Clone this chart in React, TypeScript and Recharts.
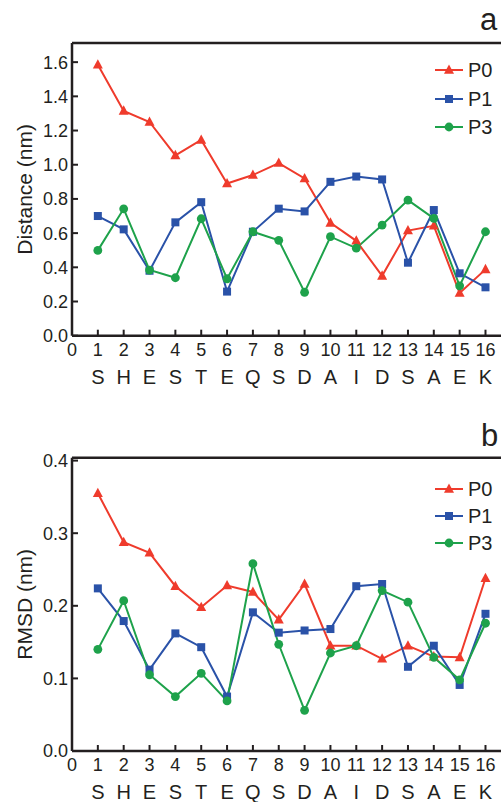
import React from 'react';
import { LineChart, Line, XAxis, YAxis, ReferenceLine, Legend } from 'recharts';

const POSITIONS = [1, 2, 3, 4, 5, 6, 7, 8, 9, 10, 11, 12, 13, 14, 15, 16];
const RESIDUES = ['S', 'H', 'E', 'S', 'T', 'E', 'Q', 'S', 'D', 'A', 'I', 'D', 'S', 'A', 'E', 'K'];
const X_TICKS = [0, 1, 2, 3, 4, 5, 6, 7, 8, 9, 10, 11, 12, 13, 14, 15, 16];

// panel a: distance (nm)
const DIST_P0 = [1.585, 1.315, 1.25, 1.055, 1.145, 0.89, 0.94, 1.01, 0.92, 0.66, 0.555, 0.35, 0.615, 0.643, 0.25, 0.388];
const DIST_P1 = [0.7, 0.622, 0.38, 0.663, 0.781, 0.258, 0.608, 0.743, 0.727, 0.9, 0.931, 0.914, 0.427, 0.735, 0.365, 0.283];
const DIST_P3 = [0.499, 0.742, 0.384, 0.339, 0.684, 0.333, 0.608, 0.558, 0.254, 0.579, 0.512, 0.647, 0.793, 0.686, 0.292, 0.608];
const DIST_TICKS = [0, 0.2, 0.4, 0.6, 0.8, 1.0, 1.2, 1.4, 1.6];

// panel b: RMSD (nm)
const RMSD_P0 = [0.355, 0.2875, 0.273, 0.227, 0.198, 0.228, 0.219, 0.181, 0.23, 0.145, 0.145, 0.127, 0.145, 0.13, 0.129, 0.238];
const RMSD_P1 = [0.224, 0.179, 0.112, 0.162, 0.143, 0.075, 0.191, 0.163, 0.166, 0.168, 0.227, 0.23, 0.116, 0.145, 0.091, 0.189];
const RMSD_P3 = [0.14, 0.207, 0.105, 0.075, 0.107, 0.069, 0.258, 0.147, 0.056, 0.135, 0.145, 0.221, 0.205, 0.129, 0.098, 0.176];
const RMSD_TICKS = [0, 0.1, 0.2, 0.3, 0.4];

const FONT = '"Liberation Sans", Arial, sans-serif';
const INK = '#231f20';

const SERIES: Record<string, { color: string; shape: 'triangle' | 'square' | 'circle' }> = {
  P0: { color: '#ef3b2c', shape: 'triangle' },
  P1: { color: '#2a52a8', shape: 'square' },
  P3: { color: '#1ea24b', shape: 'circle' },
};

const distData = POSITIONS.map((x, i) => ({ x, P0: DIST_P0[i], P1: DIST_P1[i], P3: DIST_P3[i] }));
const rmsdData = POSITIONS.map((x, i) => ({ x, P0: RMSD_P0[i], P1: RMSD_P1[i], P3: RMSD_P3[i] }));

function Marker({ cx, cy, shape, color }: any) {
  if (cx == null || cy == null) return null;
  if (shape === 'triangle') {
    return <polygon points={`${cx},${cy - 5.5} ${cx - 5},${cy + 3.8} ${cx + 5},${cy + 3.8}`} fill={color} />;
  }
  if (shape === 'square') {
    return <rect x={cx - 4} y={cy - 4} width={8} height={8} fill={color} />;
  }
  return <circle cx={cx} cy={cy} r={4.4} fill={color} />;
}

const makeDot = (name: string) => (props: any) => (
  <Marker key={`${name}-${props.index}`} cx={props.cx} cy={props.cy} shape={SERIES[name].shape} color={SERIES[name].color} />
);

// inward tick + label, y axis (tickSize 0, tickMargin 4 => label x = axis - 4)
const YTick = (props: any) => {
  const { x, y, payload } = props;
  return (
    <g>
      <line x1={x + 4} x2={x + 10} y1={y} y2={y} stroke={INK} strokeWidth={2} />
      <text x={x} y={y} dy="0.36em" textAnchor="end" fontSize={18} fill={INK} fontFamily={FONT}>
        {Number(payload.value).toFixed(1)}
      </text>
    </g>
  );
};

// inward tick, number and residue letter under each position
const XTick = (props: any) => {
  const { x, y, payload } = props;
  const v = payload.value;
  return (
    <g>
      {v > 0 && <line x1={x} x2={x} y1={y} y2={y - 6} stroke={INK} strokeWidth={2} />}
      <text x={x} y={y + 20} textAnchor="middle" fontSize={18} fill={INK} fontFamily={FONT}>
        {v}
      </text>
      {v >= 1 && (
        <text x={x} y={y + 48} textAnchor="middle" fontSize={20} fill={INK} fontFamily={FONT}>
          {RESIDUES[v - 1]}
        </text>
      )}
    </g>
  );
};

const yTitle = (title: string) => (p: any) => {
  const vb = p.viewBox;
  const cx = vb.x + 24;
  const cy = vb.y + vb.height / 2;
  return (
    <text x={cx} y={cy} dy="0.36em" transform={`rotate(-90, ${cx}, ${cy})`} textAnchor="middle" fontSize={21} fill={INK} fontFamily={FONT}>
      {title}
    </text>
  );
};

const legendContent = (rowH: number) => (props: any) => (
  <div style={{ fontFamily: FONT }}>
    {(props.payload || []).map((entry: any) => {
      const s = SERIES[entry.value];
      return (
        <div key={entry.value} style={{ display: 'flex', alignItems: 'center', height: rowH }}>
          <svg width={33} height={14} style={{ display: 'block' }}>
            <line x1={0} x2={28} y1={7} y2={7} stroke={s.color} strokeWidth={2} />
            <Marker cx={14} cy={7} shape={s.shape} color={s.color} />
          </svg>
          <span style={{ fontSize: 20, color: INK, lineHeight: 1 }}>{entry.value}</span>
        </div>
      );
    })}
  </div>
);

function Panel({ data, yMax, yTicks, title, height, top, xAxisH, legendTop, rowH }: any) {
  return (
    <LineChart width={501} height={height} data={data} margin={{ top, right: 0, bottom: 0, left: 0 }}>
      <XAxis
        dataKey="x"
        type="number"
        domain={[0, 16.6]}
        ticks={X_TICKS}
        allowDataOverflow
        height={xAxisH}
        tickSize={0}
        tickMargin={0}
        tickLine={false}
        axisLine={{ stroke: INK, strokeWidth: 2.5 }}
        tick={XTick}
        interval={0}
      />
      <YAxis
        type="number"
        domain={[0, yMax]}
        ticks={yTicks}
        allowDataOverflow
        width={72}
        tickSize={0}
        tickMargin={4}
        tickLine={false}
        axisLine={{ stroke: INK, strokeWidth: 2.5 }}
        tick={YTick}
        interval={0}
        label={{ content: yTitle(title) }}
      />
      <ReferenceLine y={yMax} stroke={INK} strokeWidth={2.5} />
      <Legend
        layout="vertical"
        align="center"
        verticalAlign="middle"
        content={legendContent(rowH)}
        wrapperStyle={{ left: 435, top: legendTop, width: 66, height: rowH * 3 }}
      />
      {['P0', 'P1', 'P3'].map((k) => (
        <Line
          key={k}
          dataKey={k}
          name={k}
          type="linear"
          stroke={SERIES[k].color}
          strokeWidth={2}
          dot={makeDot(k)}
          activeDot={false}
          isAnimationActive={false}
        />
      ))}
    </LineChart>
  );
}

export default function App() {
  return (
    <div style={{ position: 'absolute', left: 0, top: 0, width: 501, height: 802, background: '#fff', fontFamily: FONT }}>
      <div style={{ position: 'absolute', left: 0, top: 0 }}>
        <Panel data={distData} yMax={1.712} yTicks={DIST_TICKS} title="Distance (nm)" height={400} top={43} xAxisH={64.3} legendTop={56} rowH={28.5} />
      </div>
      <div style={{ position: 'absolute', left: 0, top: 400 }}>
        <Panel data={rmsdData} yMax={0.404} yTicks={RMSD_TICKS} title="RMSD (nm)" height={402} top={57.7} xAxisH={51} legendTop={75.5} rowH={27} />
      </div>
      <div style={{ position: 'absolute', left: 480, top: 5, fontSize: 31, lineHeight: '30px', color: INK }}>a</div>
      <div style={{ position: 'absolute', left: 481, top: 421, fontSize: 31, lineHeight: '30px', color: INK }}>b</div>
    </div>
  );
}
